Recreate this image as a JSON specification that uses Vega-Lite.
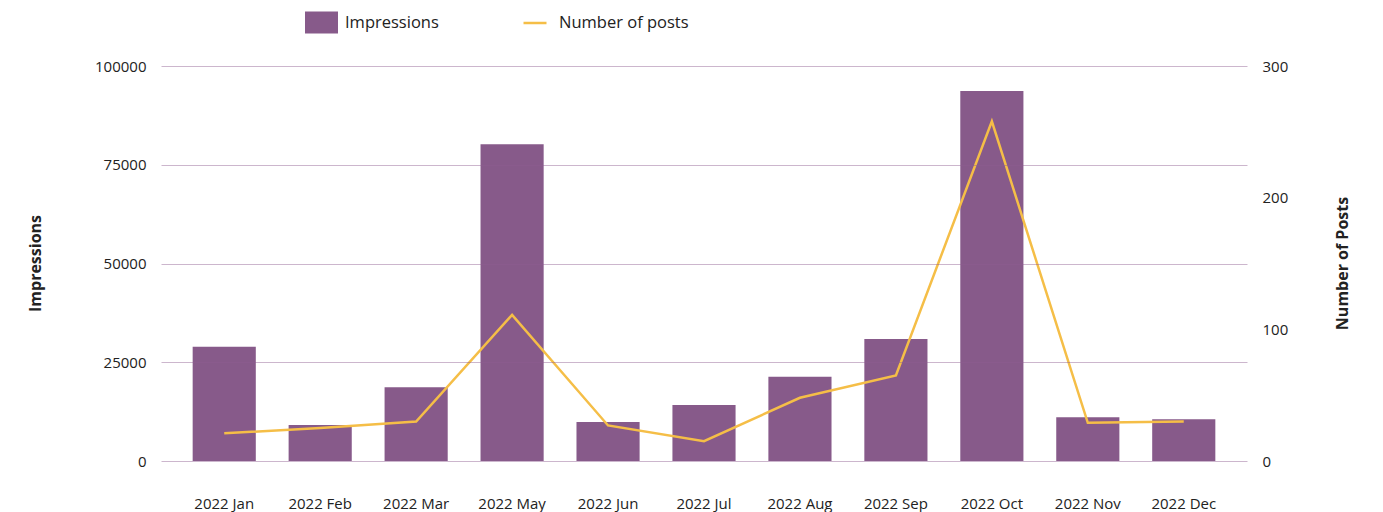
{
  "$schema": "https://vega.github.io/schema/vega-lite/v6.json",
  "autosize": {"type": "none"},
  "width": 1086,
  "height": 395,
  "padding": {"left": 161, "top": 66, "right": 136, "bottom": 51},
  "background": "white",
  "config": {
    "font": "Open Sans",
    "view": {"stroke": null},
    "axis": {"labelFont": "Open Sans", "labelFontSize": 15, "labelColor": "#222222", "titleFont": "Open Sans", "titleFontSize": 16, "titleFontWeight": "bold", "titleColor": "#222222"}
  },
  "data": {
    "values": [
      {"month": "2022 Jan", "impressions": 28900, "posts": 21},
      {"month": "2022 Feb", "impressions": 9100, "posts": 25},
      {"month": "2022 Mar", "impressions": 18700, "posts": 30},
      {"month": "2022 May", "impressions": 80200, "posts": 111},
      {"month": "2022 Jun", "impressions": 9900, "posts": 27},
      {"month": "2022 Jul", "impressions": 14200, "posts": 15},
      {"month": "2022 Aug", "impressions": 21300, "posts": 48},
      {"month": "2022 Sep", "impressions": 30900, "posts": 65},
      {"month": "2022 Oct", "impressions": 93700, "posts": 258},
      {"month": "2022 Nov", "impressions": 11100, "posts": 29},
      {"month": "2022 Dec", "impressions": 10600, "posts": 30}
    ]
  },
  "encoding": {
    "x": {
      "field": "month", "type": "nominal", "sort": null,
      "scale": {"paddingInner": 0.342, "paddingOuter": 0.33},
      "axis": {"title": null, "labelAngle": 0, "domain": false, "ticks": false, "labelPadding": 35, "labelBaseline": "top"}
    }
  },
  "layer": [
    {
      "mark": {"type": "bar", "color": "#875A8A"},
      "encoding": {
        "y": {
          "field": "impressions", "type": "quantitative",
          "scale": {"domain": [0, 100000]},
          "axis": {"title": "Impressions", "values": [0, 25000, 50000, 75000, 100000], "format": "d", "domain": false, "ticks": false, "labelPadding": 15, "grid": true, "gridColor": "#8E5E91", "gridOpacity": 0.45, "gridWidth": 1, "zindex": 1, "titleX": -126, "titleY": 197, "titleAngle": -90, "titleBaseline": "middle", "titleAlign": "center"}
        },
        "color": {
          "datum": "Impressions", "type": "nominal",
          "scale": {"domain": ["Impressions"], "range": ["#875A8A"]},
          "legend": {"title": null, "orient": "none", "legendX": 144, "legendY": -60, "symbolType": "M-1,-0.667L1,-0.667L1,0.667L-1,0.667Z", "symbolSize": 1089, "symbolStrokeWidth": 0, "labelFont": "Open Sans", "labelFontSize": 16.5, "labelColor": "#222222", "labelOffset": 7}
        }
      }
    },
    {
      "mark": {"type": "line", "color": "#F5BE47", "strokeWidth": 2.5},
      "encoding": {
        "y": {
          "field": "posts", "type": "quantitative",
          "scale": {"domain": [0, 300]},
          "axis": {"title": "Number of Posts", "orient": "right", "values": [0, 100, 200, 300], "domain": false, "ticks": false, "grid": false, "labelPadding": 15, "titleX": 95, "titleY": 197, "titleAngle": -90, "titleBaseline": "middle", "titleAlign": "center"}
        },
        "stroke": {
          "datum": "Number of posts", "type": "nominal",
          "scale": {"domain": ["Number of posts"], "range": ["#F5BE47"]},
          "legend": {"title": null, "orient": "none", "legendX": 361, "legendY": -56, "symbolType": "stroke", "symbolSize": 529, "symbolStrokeWidth": 2.5, "labelFont": "Open Sans", "labelFontSize": 16.5, "labelColor": "#222222", "labelOffset": 11}
        }
      }
    }
  ],
  "resolve": {"scale": {"y": "independent", "color": "independent", "stroke": "independent"}}
}
